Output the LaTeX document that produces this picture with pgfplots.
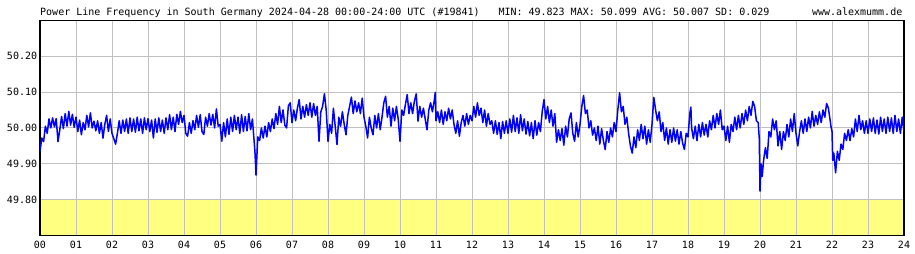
\documentclass[border=0pt]{standalone}
\usepackage{pgfplots}
\usepackage{pgfplotstable}
\pgfplotsset{compat=1.18}
\usepackage{fontspec}
\setmainfont{DejaVu Sans Mono}
\definecolor{plotblue}{RGB}{0,0,255}
\definecolor{gridgray}{RGB}{192,192,192}
\definecolor{bandyellow}{RGB}{255,255,128}
\pgfplotstableread{
x y
0.00 49.935
0.05 49.972
0.10 49.962
0.15 50.005
0.20 49.985
0.25 50.025
0.30 50.000
0.35 50.028
0.40 50.003
0.45 50.026
0.50 49.962
0.55 49.995
0.60 50.032
0.65 49.998
0.70 50.040
0.75 50.005
0.80 50.046
0.85 50.008
0.90 50.038
0.95 50.002
1.00 50.030
1.05 49.990
1.10 50.022
1.15 49.981
1.20 50.015
1.25 49.995
1.30 50.035
1.35 50.003
1.40 50.042
1.45 50.000
1.50 50.019
1.55 49.992
1.60 50.020
1.65 49.985
1.70 50.015
1.75 49.972
1.80 50.010
1.85 50.035
1.90 49.990
1.95 50.025
2.00 49.985
2.05 49.970
2.10 49.955
2.15 49.985
2.20 50.020
2.25 49.985
2.30 50.022
2.35 49.990
2.40 50.025
2.45 49.985
2.50 50.028
2.55 49.990
2.60 50.025
2.65 49.988
2.70 50.030
2.75 49.992
2.80 50.025
2.85 49.985
2.90 50.028
2.95 49.995
3.00 50.026
3.05 49.990
3.10 50.022
3.15 49.972
3.20 50.025
3.25 49.988
3.30 50.028
3.35 49.990
3.40 50.022
3.45 49.985
3.50 50.028
3.55 49.995
3.60 50.037
3.65 49.995
3.70 50.030
3.75 49.990
3.80 50.038
3.85 50.010
3.90 50.046
3.95 50.015
4.00 50.035
4.05 49.985
4.10 49.977
4.15 50.015
4.20 49.985
4.25 50.020
4.30 49.995
4.35 50.035
4.40 50.002
4.45 50.037
4.50 49.990
4.55 49.982
4.60 50.030
4.65 50.005
4.70 50.040
4.75 50.008
4.80 50.038
4.85 50.000
4.90 50.053
4.95 50.005
5.00 50.010
5.05 49.963
5.10 50.015
5.15 49.975
5.20 50.025
5.25 49.982
5.30 50.030
5.35 49.990
5.40 50.035
5.45 49.995
5.50 50.030
5.55 49.985
5.60 50.037
5.65 49.990
5.70 50.032
5.75 49.992
5.80 50.040
5.85 49.995
5.90 50.025
5.95 49.960
5.97 49.935
6.00 49.869
6.05 49.975
6.10 49.965
6.15 50.000
6.20 49.972
6.25 50.005
6.30 49.975
6.35 50.015
6.40 49.990
6.45 50.025
6.50 49.998
6.55 50.040
6.60 50.010
6.65 50.060
6.70 50.015
6.75 50.050
6.80 50.008
6.85 50.000
6.90 50.062
6.95 50.070
7.00 50.015
7.05 50.050
7.10 50.020
7.15 50.055
7.20 50.079
7.25 50.025
7.30 50.060
7.35 50.030
7.40 50.065
7.45 50.035
7.50 50.070
7.55 50.030
7.60 50.068
7.65 50.035
7.70 50.060
7.75 49.963
7.80 50.045
7.85 50.060
7.90 50.095
7.95 50.050
8.00 49.963
8.05 50.010
8.10 49.985
8.15 50.055
8.20 50.005
8.25 49.954
8.30 50.030
8.35 50.005
8.40 50.045
8.45 50.010
8.50 49.981
8.55 50.035
8.60 50.060
8.65 50.086
8.70 50.040
8.75 50.075
8.80 50.045
8.85 50.070
8.90 50.040
8.95 50.083
9.00 50.030
9.05 50.005
9.10 49.972
9.15 50.030
9.20 50.000
9.25 49.981
9.30 50.035
9.35 50.000
9.40 50.040
9.45 49.995
9.50 50.030
9.55 50.070
9.60 50.088
9.65 50.030
9.70 50.060
9.75 50.005
9.80 50.055
9.85 50.020
9.90 50.060
9.95 50.025
10.00 49.963
10.05 50.050
10.10 50.035
10.15 50.065
10.20 50.093
10.25 50.040
10.30 50.070
10.35 50.040
10.40 50.075
10.45 50.095
10.50 50.019
10.55 50.060
10.60 50.030
10.65 50.055
10.70 50.025
10.75 49.995
10.80 50.050
10.85 50.070
10.90 50.045
10.95 50.075
10.98 50.099
11.00 50.020
11.05 50.045
11.10 50.015
11.15 50.050
11.20 50.010
11.25 50.045
11.30 50.020
11.35 50.055
11.40 50.025
11.45 50.050
11.50 50.010
11.55 49.985
11.60 50.020
11.65 49.977
11.70 50.015
11.75 50.035
11.80 50.005
11.85 50.040
11.90 50.010
11.95 50.035
12.00 50.020
12.05 50.060
12.10 50.030
12.15 50.070
12.20 50.035
12.25 50.055
12.30 50.015
12.35 50.050
12.40 50.005
12.45 50.040
12.50 50.010
12.55 50.020
12.60 49.985
12.65 50.020
12.70 49.982
12.75 50.015
12.80 49.970
12.85 50.018
12.90 49.985
12.95 50.020
13.00 49.985
13.05 50.025
13.10 49.988
13.15 50.035
13.20 49.990
13.25 50.028
13.30 49.985
13.35 50.037
13.40 49.992
13.45 50.025
13.50 49.983
13.55 50.018
13.60 49.978
13.65 50.015
13.70 49.970
13.75 50.020
13.80 49.980
13.85 50.015
13.90 49.990
13.95 50.045
14.00 50.079
14.05 50.025
14.10 50.060
14.15 50.015
14.20 50.050
14.25 50.005
14.30 50.040
14.35 49.960
14.40 49.995
14.45 49.965
14.50 49.998
14.55 49.952
14.60 50.005
14.65 49.975
14.70 50.025
14.75 50.042
14.80 49.985
14.85 49.963
14.90 50.015
14.95 49.975
15.00 50.010
15.05 50.060
15.10 50.090
15.15 50.040
15.20 50.050
15.25 50.000
15.30 50.020
15.35 49.980
15.40 50.000
15.45 49.965
15.50 50.005
15.55 49.955
15.60 49.998
15.65 49.965
15.70 49.940
15.75 49.990
15.80 49.960
15.85 50.000
15.90 49.975
15.95 50.015
16.00 49.990
16.05 50.050
16.10 50.098
16.15 50.045
16.20 50.060
16.25 50.010
16.30 50.030
16.35 49.985
16.40 49.950
16.45 49.930
16.50 49.975
16.55 49.945
16.60 49.995
16.65 49.965
16.70 50.010
16.75 49.970
16.80 50.005
16.85 49.955
16.90 49.995
16.95 49.960
17.00 50.010
17.05 50.085
17.10 50.050
17.15 50.020
17.20 50.045
17.25 49.990
17.30 50.015
17.35 49.965
17.40 50.000
17.45 49.955
17.50 49.995
17.55 49.960
17.60 50.000
17.65 49.963
17.70 49.995
17.75 49.955
17.80 49.990
17.85 49.958
17.90 49.940
17.95 49.985
18.00 49.975
18.05 50.040
18.08 50.058
18.10 50.000
18.15 49.970
18.20 50.005
18.25 49.965
18.30 50.010
18.35 49.975
18.40 50.015
18.45 49.980
18.50 50.010
18.55 49.975
18.60 50.020
18.65 49.995
18.70 50.035
18.75 50.000
18.80 50.040
18.85 50.010
18.90 50.050
18.95 49.995
19.00 50.005
19.05 49.965
19.10 50.005
19.15 49.960
19.20 50.010
19.25 49.990
19.30 50.030
19.35 49.995
19.40 50.035
19.45 50.000
19.50 50.040
19.55 50.010
19.60 50.050
19.65 50.020
19.70 50.060
19.75 50.035
19.80 50.074
19.85 50.060
19.90 50.020
19.95 50.015
19.98 49.970
20.00 49.824
20.03 49.900
20.06 49.865
20.10 49.910
20.15 49.945
20.20 49.915
20.25 49.990
20.30 49.975
20.35 50.025
20.40 49.995
20.45 50.020
20.50 49.950
20.55 49.990
20.60 49.940
20.65 49.990
20.70 49.965
20.75 50.010
20.80 49.975
20.85 50.025
20.90 49.990
20.95 50.040
21.00 49.985
21.05 49.950
21.10 49.990
21.15 50.020
21.20 49.985
21.25 50.025
21.30 49.990
21.35 50.030
21.40 50.000
21.45 50.046
21.50 50.005
21.55 50.035
21.60 50.010
21.65 50.045
21.70 50.015
21.75 50.050
21.80 50.030
21.85 50.068
21.90 50.055
21.95 50.020
21.97 50.005
22.00 49.990
22.02 49.910
22.05 49.930
22.10 49.875
22.15 49.935
22.20 49.910
22.25 49.955
22.30 49.940
22.35 49.985
22.40 49.965
22.45 49.995
22.50 49.965
22.55 49.998
22.60 49.975
22.65 50.025
22.70 49.990
22.75 50.035
22.80 49.995
22.85 50.020
22.90 49.985
22.95 50.020
23.00 49.985
23.05 50.025
23.10 49.990
23.15 50.028
23.20 49.985
23.25 50.022
23.30 49.983
23.35 50.030
23.40 49.990
23.45 50.025
23.50 49.985
23.55 50.030
23.60 49.990
23.65 50.028
23.70 49.985
23.75 50.035
23.80 49.990
23.85 50.025
23.90 49.985
23.95 50.030
24.00 49.990
}\freq
\begin{document}
\begin{tikzpicture}
\path (0,0) rectangle (915bp,254bp);
\begin{axis}[
  set layers,
  at={(40bp,18.3bp)}, anchor=south west,
  scale only axis, width=864bp, height=215.5bp,
  xmin=0, xmax=24, ymin=49.70, ymax=50.30,
  xtick={0,1,...,24},
  xticklabels={00,01,02,03,04,05,06,07,08,09,10,11,12,13,14,15,16,17,18,19,20,21,22,23,24},
  ytick={49.8,49.9,50.0,50.1,50.2},
  yticklabels={49.80,49.90,50.00,50.10,50.20},
  major tick length=0pt,
  grid=major,
  major grid style={draw=gridgray, line width=1bp},
  axis line style={black, line width=1.3bp},
  tick label style={font=\fontsize{10bp}{12bp}\selectfont, inner sep=0pt},
  xticklabel style={anchor=north, yshift=-5bp},
  yticklabel style={anchor=east, xshift=-2.7bp},
  /pgf/number format/assume math mode=true,
]
\addplot[draw=none, fill=bandyellow, on layer=axis background] coordinates {(0,49.70) (0,49.80) (24,49.80) (24,49.70)};
\addplot[plotblue, line width=1.5bp, line join=round, mark=none] table[x=x, y=y] {\freq};
\end{axis}
\node[anchor=base west, inner sep=0pt, font=\fontsize{10bp}{12bp}\selectfont] at (40bp,238.7bp) {Power Line Frequency in South Germany 2024-04-28 00:00-24:00 UTC (\#19841)};
\node[anchor=base west, inner sep=0pt, font=\fontsize{10bp}{12bp}\selectfont] at (498.3bp,238.7bp) {MIN: 49.823 MAX: 50.099 AVG: 50.007 SD: 0.029};
\node[anchor=base east, inner sep=0pt, font=\fontsize{10bp}{12bp}\selectfont] at (902.5bp,238.7bp) {www.alexmumm.de};
\end{tikzpicture}
\end{document}
